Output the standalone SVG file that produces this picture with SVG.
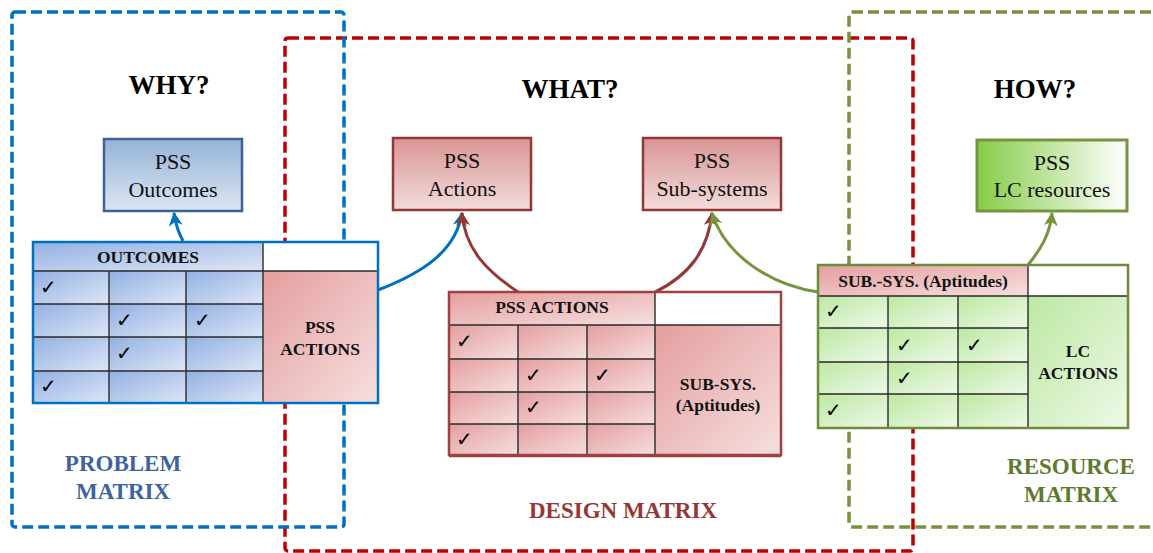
<svg xmlns="http://www.w3.org/2000/svg" width="1153" height="553" viewBox="0 0 1153 553">
<style>
.title{font-family:"Liberation Serif",serif;font-weight:bold;font-size:27px;fill:#000;text-anchor:middle}
.box{font-family:"Liberation Serif",serif;font-size:22px;fill:#111;text-anchor:middle}
.mt{font-family:"Liberation Serif",serif;font-weight:bold;font-size:17.5px;fill:#111;text-anchor:middle}
.lab{font-family:"Liberation Serif",serif;font-weight:bold;font-size:23px;text-anchor:middle}
.chk{font-family:"DejaVu Sans",sans-serif;font-size:20px;fill:#000}
.grid{stroke:#2a2a2a;stroke-width:1.4}
.dash{fill:none;stroke-width:3.5;stroke-dasharray:11 5}
.conn{fill:none;stroke-width:3}
</style>
<defs>
<linearGradient id="gBlueBox" x1="0" y1="0" x2="0" y2="1"><stop offset="0" stop-color="#95B3D7"/><stop offset="1" stop-color="#DCE6F2"/></linearGradient>
<linearGradient id="gRedBox" x1="0" y1="0" x2="0" y2="1"><stop offset="0" stop-color="#D99594"/><stop offset="1" stop-color="#F2DCDB"/></linearGradient>
<linearGradient id="gGreenBox" x1="0" y1="0" x2="1" y2="0"><stop offset="0" stop-color="#86CC48"/><stop offset="1" stop-color="#FFFFFF"/></linearGradient>
<linearGradient id="gBlue" x1="0" y1="0" x2="1" y2="1"><stop offset="0" stop-color="#93B0E2"/><stop offset="1" stop-color="#DDE6F6"/></linearGradient>
<linearGradient id="gRed" x1="0" y1="0" x2="1" y2="1"><stop offset="0" stop-color="#E49E9E"/><stop offset="1" stop-color="#F6DFDF"/></linearGradient>
<linearGradient id="gGreen" x1="0" y1="0" x2="1" y2="1"><stop offset="0" stop-color="#BCE8A2"/><stop offset="1" stop-color="#EEF9E8"/></linearGradient>
<marker id="aBlue" markerUnits="userSpaceOnUse" markerWidth="14" markerHeight="14" viewBox="0 0 12 12" refX="11" refY="6" orient="auto"><path d="M0,0 L12,6 L0,12 L3.5,6 Z" fill="#0070C0"/></marker>
<marker id="aRed" markerUnits="userSpaceOnUse" markerWidth="14" markerHeight="14" viewBox="0 0 12 12" refX="11" refY="6" orient="auto"><path d="M0,0 L12,6 L0,12 L3.5,6 Z" fill="#953735"/></marker>
<marker id="aGreen" markerUnits="userSpaceOnUse" markerWidth="14" markerHeight="14" viewBox="0 0 12 12" refX="11" refY="6" orient="auto"><path d="M0,0 L12,6 L0,12 L3.5,6 Z" fill="#77933C"/></marker>
</defs>
<rect width="1153" height="553" fill="#fff"/>

<g id="regions">
<rect x="285" y="38" width="628" height="513" rx="3" class="dash" stroke="#C00000"/>
<rect x="12" y="12" width="332" height="515" rx="3" class="dash" stroke="#0070C0"/>
<rect x="849" y="12" width="320" height="515" rx="3" class="dash" stroke="#77933C"/>
</g>

<g id="titles">
<text class="title" x="169" y="94">WHY?</text>
<text class="title" x="570" y="98">WHAT?</text>
<text class="title" x="1035" y="98">HOW?</text>
</g>

<g id="connectors">
<path class="conn" stroke="#0070C0" d="M183,241 Q176,228 174,213" marker-end="url(#aBlue)"/>
<path class="conn" stroke="#0070C0" d="M378,290 C425,272 456,250 462,213" marker-end="url(#aBlue)"/>
<path class="conn" stroke="#953735" d="M518,292 C488,272 465,250 462,213" marker-end="url(#aRed)"/>
<path class="conn" stroke="#953735" d="M655,292 C690,275 708,250 712,213" marker-end="url(#aRed)"/>
<path class="conn" stroke="#77933C" d="M818,292 C770,285 725,255 712,213" marker-end="url(#aGreen)"/>
<path class="conn" stroke="#77933C" d="M1028,265 C1040,250 1050,235 1052,213" marker-end="url(#aGreen)"/>
</g>

<g id="pss-outcomes">
<rect x="104" y="139" width="138" height="72" fill="url(#gBlueBox)" stroke="#3A6499" stroke-width="2.5"/>
<text class="box" x="173" y="169">PSS</text>
<text class="box" x="173" y="197">Outcomes</text>
</g>
<g id="pss-actions">
<rect x="393" y="138" width="138" height="72" fill="url(#gRedBox)" stroke="#953735" stroke-width="2.5"/>
<text class="box" x="462" y="168">PSS</text>
<text class="box" x="462" y="196">Actions</text>
</g>
<g id="pss-subsystems">
<rect x="643" y="138" width="138" height="72" fill="url(#gRedBox)" stroke="#953735" stroke-width="2.5"/>
<text class="box" x="712" y="168">PSS</text>
<text class="box" x="712" y="196">Sub-systems</text>
</g>
<g id="pss-lc-resources">
<rect x="977" y="140" width="150" height="71" fill="url(#gGreenBox)" stroke="#77933C" stroke-width="3"/>
<text class="box" x="1052" y="170">PSS</text>
<text class="box" x="1052" y="197">LC resources</text>
</g>

<g id="problem-matrix">
<rect x="33" y="242" width="230" height="29" fill="url(#gBlue)"/>
<rect x="263" y="242" width="115" height="29" fill="#fff"/>
<rect x="263" y="271" width="115" height="132" fill="url(#gRed)"/>
<rect x="33" y="271" width="76" height="33" fill="url(#gBlue)"/><rect x="109" y="271" width="77" height="33" fill="url(#gBlue)"/><rect x="186" y="271" width="77" height="33" fill="url(#gBlue)"/>
<rect x="33" y="304" width="76" height="33" fill="url(#gBlue)"/><rect x="109" y="304" width="77" height="33" fill="url(#gBlue)"/><rect x="186" y="304" width="77" height="33" fill="url(#gBlue)"/>
<rect x="33" y="337" width="76" height="34" fill="url(#gBlue)"/><rect x="109" y="337" width="77" height="34" fill="url(#gBlue)"/><rect x="186" y="337" width="77" height="34" fill="url(#gBlue)"/>
<rect x="33" y="371" width="76" height="32" fill="url(#gBlue)"/><rect x="109" y="371" width="77" height="32" fill="url(#gBlue)"/><rect x="186" y="371" width="77" height="32" fill="url(#gBlue)"/>
<path class="grid" d="M33,271H378M33,304H263M33,337H263M33,371H263M109,271V403M186,271V403M263,242V403"/>
<rect x="33" y="242" width="345" height="161" fill="none" stroke="#0070C0" stroke-width="2.5"/>
<text class="mt" x="148" y="263">OUTCOMES</text>
<text class="mt" x="320" y="333">PSS</text>
<text class="mt" x="320" y="355">ACTIONS</text>
<text class="chk" x="40" y="294">✓</text>
<text class="chk" x="116" y="327">✓</text>
<text class="chk" x="194" y="327">✓</text>
<text class="chk" x="116" y="360">✓</text>
<text class="chk" x="40" y="393">✓</text>
</g>

<g id="design-matrix">
<rect x="449" y="292" width="206" height="33" fill="url(#gRed)"/>
<rect x="655" y="292" width="126" height="33" fill="#fff"/>
<rect x="655" y="325" width="126" height="130" fill="url(#gRed)"/>
<rect x="449" y="325" width="69" height="34" fill="url(#gRed)"/><rect x="518" y="325" width="69" height="34" fill="url(#gRed)"/><rect x="587" y="325" width="68" height="34" fill="url(#gRed)"/>
<rect x="449" y="359" width="69" height="33" fill="url(#gRed)"/><rect x="518" y="359" width="69" height="33" fill="url(#gRed)"/><rect x="587" y="359" width="68" height="33" fill="url(#gRed)"/>
<rect x="449" y="392" width="69" height="32" fill="url(#gRed)"/><rect x="518" y="392" width="69" height="32" fill="url(#gRed)"/><rect x="587" y="392" width="68" height="32" fill="url(#gRed)"/>
<rect x="449" y="424" width="69" height="31" fill="url(#gRed)"/><rect x="518" y="424" width="69" height="31" fill="url(#gRed)"/><rect x="587" y="424" width="68" height="31" fill="url(#gRed)"/>
<path class="grid" d="M449,325H781M449,359H655M449,392H655M449,424H655M518,325V455M587,325V455M655,292V455"/>
<rect x="449" y="292" width="332" height="163" fill="none" stroke="#A04040" stroke-width="2.5"/>
<line x1="449" y1="456.5" x2="781" y2="456.5" stroke="#A04040" stroke-width="1.5"/>
<text class="mt" x="552" y="313">PSS ACTIONS</text>
<text class="mt" x="718" y="390">SUB-SYS.</text>
<text class="mt" x="718" y="411">(Aptitudes)</text>
<text class="chk" x="456" y="348">✓</text>
<text class="chk" x="525" y="382">✓</text>
<text class="chk" x="594" y="382">✓</text>
<text class="chk" x="525" y="414">✓</text>
<text class="chk" x="456" y="446">✓</text>
</g>

<g id="resource-matrix">
<rect x="818" y="265" width="210" height="31" fill="url(#gRed)"/>
<rect x="1028" y="265" width="100" height="31" fill="#fff"/>
<rect x="1028" y="296" width="100" height="132" fill="url(#gGreen)"/>
<rect x="818" y="296" width="70" height="32" fill="url(#gGreen)"/><rect x="888" y="296" width="70" height="32" fill="url(#gGreen)"/><rect x="958" y="296" width="70" height="32" fill="url(#gGreen)"/>
<rect x="818" y="328" width="70" height="34" fill="url(#gGreen)"/><rect x="888" y="328" width="70" height="34" fill="url(#gGreen)"/><rect x="958" y="328" width="70" height="34" fill="url(#gGreen)"/>
<rect x="818" y="362" width="70" height="32" fill="url(#gGreen)"/><rect x="888" y="362" width="70" height="32" fill="url(#gGreen)"/><rect x="958" y="362" width="70" height="32" fill="url(#gGreen)"/>
<rect x="818" y="394" width="70" height="34" fill="url(#gGreen)"/><rect x="888" y="394" width="70" height="34" fill="url(#gGreen)"/><rect x="958" y="394" width="70" height="34" fill="url(#gGreen)"/>
<path class="grid" d="M818,296H1128M818,328H1028M818,362H1028M818,394H1028M888,296V428M958,296V428M1028,265V428"/>
<rect x="818" y="265" width="310" height="163" fill="none" stroke="#6E8B3D" stroke-width="2.5"/>
<text class="mt" x="923" y="287">SUB.-SYS. (Aptitudes)</text>
<text class="mt" x="1078" y="357">LC</text>
<text class="mt" x="1078" y="379">ACTIONS</text>
<text class="chk" x="825" y="318">✓</text>
<text class="chk" x="896" y="352">✓</text>
<text class="chk" x="966" y="352">✓</text>
<text class="chk" x="896" y="385">✓</text>
<text class="chk" x="825" y="417">✓</text>
</g>

<g id="labels">
<text class="lab" x="123" y="471" fill="#3D64A0">PROBLEM</text>
<text class="lab" x="123" y="499" fill="#3D64A0">MATRIX</text>
<text class="lab" x="623" y="518" fill="#953735">DESIGN MATRIX</text>
<text class="lab" x="1071" y="474" fill="#5E7A2E">RESOURCE</text>
<text class="lab" x="1071" y="502" fill="#5E7A2E">MATRIX</text>
</g>
</svg>
